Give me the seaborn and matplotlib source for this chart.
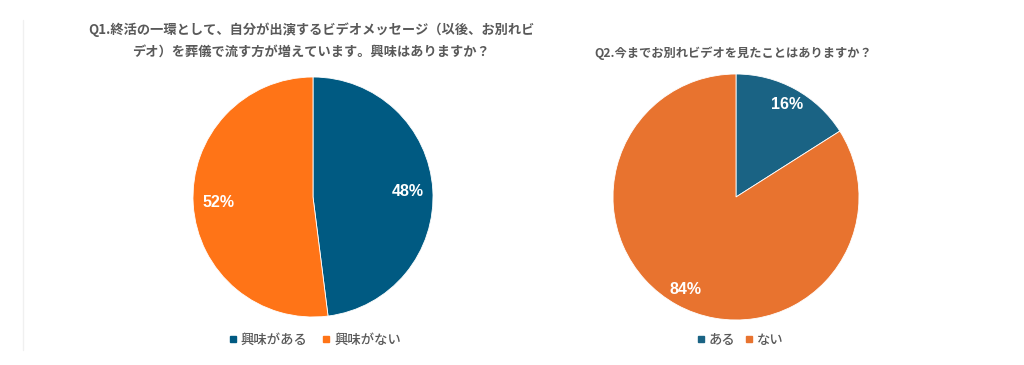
import seaborn as sns
import matplotlib
matplotlib.use("Agg")
import matplotlib.pyplot as plt
from matplotlib.lines import Line2D

# data
q1_title = "Q1.終活の一環として、自分が出演するビデオメッセージ（以後、お別れビ\nデオ）を葬儀で流す方が増えています。興味はありますか？"
q1_labels = ["興味がある", "興味がない"]
q1_values = [48, 52]
q1_colors = ["#005a82", "#ff7417"]

q2_title = "Q2.今までお別れビデオを見たことはありますか？"
q2_labels = ["ある", "ない"]
q2_values = [16, 84]
q2_colors = ["#1a6384", "#e8732f"]

sns.set_theme(style="white")
plt.rcParams['font.family'] = ['Noto Sans CJK JP', 'DejaVu Sans']
TXT = "#595959"

fig = plt.figure(figsize=(10.24, 3.65), dpi=100)
fig.patch.set_facecolor("white")

# faint frame line on the left
fig.add_artist(Line2D([23/1024, 23/1024], [15/365, 345/365], color="#f0f0f0", lw=1))


def draw_pie(rect, values, colors, pctdist):
    ax = fig.add_axes(rect)
    wedges, texts, autotexts = ax.pie(
        values, colors=colors, startangle=90, counterclock=False,
        autopct=lambda p: f"{p:.0f}%", pctdistance=pctdist,
        wedgeprops=dict(linewidth=0.6, edgecolor="white"))
    for t in autotexts:
        t.set_color("white")
        t.set_fontsize(11.5)
        t.set_fontweight("bold")
        t.set_family(["Liberation Sans", "DejaVu Sans"])
    ax.set_xlim(-1.0, 1.0)
    ax.set_ylim(-1.0, 1.0)
    ax.set_aspect("equal")
    ax.axis("off")
    return ax


draw_pie([193/1024, 48/365, 240/1024, 240/365], q1_values, q1_colors, 0.79)
draw_pie([613/1024, 45/365, 246/1024, 246/365], q2_values, q2_colors, 0.855)

fig.text(311/1024, 1 - 41/365, q1_title, ha="center", va="center",
         fontsize=9.5, fontweight="bold", color=TXT, linespacing=1.7)
fig.text(733/1024, 1 - 53/365, q2_title, ha="center", va="center",
         fontsize=8.8, fontweight="bold", color=TXT)


def add_legend(labels, colors, cx, colsp):
    handles = [Line2D([], [], marker="s", linestyle="none", markersize=5,
                      markerfacecolor=c, markeredgecolor=c) for c in colors]
    fig.legend(handles, labels, loc="center", bbox_to_anchor=(cx, 1 - 340/365),
               ncol=2, frameon=False, handlelength=0.6, handletextpad=0.3,
               columnspacing=colsp, prop={"size": 9.6, "weight": "medium"},
               labelcolor=TXT)


add_legend(q1_labels, q1_colors, 315/1024, 1.1)
add_legend(q2_labels, q2_colors, 740/1024, 0.7)

fig.savefig("out.png", dpi=100, facecolor="white")
